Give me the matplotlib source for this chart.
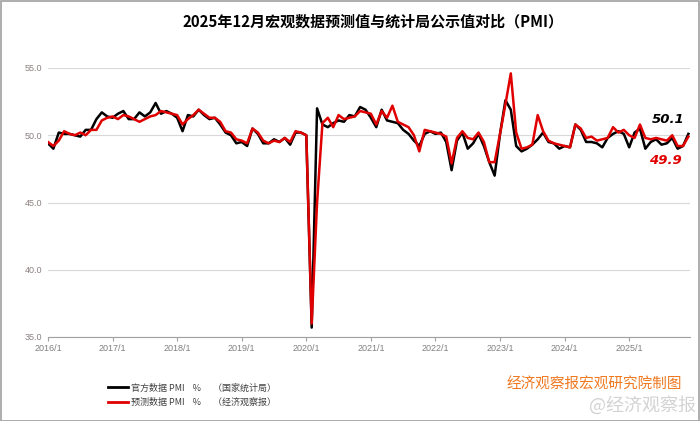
import matplotlib.pyplot as plt
from matplotlib.patches import Rectangle
from matplotlib.lines import Line2D

plt.rcParams['font.family'] = ['Noto Sans CJK SC', 'DejaVu Sans']

# 2016/1 ~ 2025/12 月度数据
tick_labels = ['2016/1', '2017/1', '2018/1', '2019/1', '2020/1',
               '2021/1', '2022/1', '2023/1', '2024/1', '2025/1']

# 官方数据 PMI（国家统计局）
official = [
    49.4, 49.0, 50.2, 50.1, 50.1, 50.0, 49.9, 50.4, 50.4, 51.2, 51.7, 51.4,
    51.3, 51.6, 51.8, 51.2, 51.2, 51.7, 51.4, 51.7, 52.4, 51.6, 51.8, 51.6,
    51.3, 50.3, 51.5, 51.4, 51.9, 51.5, 51.2, 51.3, 50.8, 50.2, 50.0, 49.4,
    49.5, 49.2, 50.5, 50.1, 49.4, 49.4, 49.7, 49.5, 49.8, 49.3, 50.2, 50.2,
    50.0, 35.7, 52.0, 50.8, 50.6, 50.9, 51.1, 51.0, 51.5, 51.4, 52.1, 51.9,
    51.3, 50.6, 51.9, 51.1, 51.0, 50.9, 50.4, 50.1, 49.6, 49.2, 50.1, 50.3,
    50.1, 50.2, 49.5, 47.4, 49.6, 50.2, 49.0, 49.4, 50.1, 49.2, 48.0, 47.0,
    50.1, 52.6, 51.9, 49.2, 48.8, 49.0, 49.3, 49.7, 50.2, 49.5, 49.4, 49.0,
    49.2, 49.1, 50.8, 50.4, 49.5, 49.5, 49.4, 49.1, 49.8, 50.1, 50.3, 50.1,
    49.1, 50.2, 50.5, 49.0, 49.5, 49.7, 49.3, 49.4, 49.8, 49.0, 49.2, 50.1,
]

# 预测数据 PMI（经济观察报）
forecast = [
    49.5, 49.2, 49.6, 50.3, 50.1, 50.0, 50.2, 50.0, 50.4, 50.4, 51.1, 51.3,
    51.4, 51.2, 51.5, 51.4, 51.2, 51.0, 51.2, 51.4, 51.5, 51.8, 51.7, 51.6,
    51.5, 50.8, 51.2, 51.5, 51.9, 51.6, 51.3, 51.3, 51.0, 50.3, 50.2, 49.7,
    49.6, 49.4, 50.5, 50.2, 49.6, 49.4, 49.6, 49.5, 49.8, 49.5, 50.3, 50.2,
    50.0, 36.0, 45.0, 50.9, 51.3, 50.6, 51.5, 51.2, 51.3, 51.4, 51.8, 51.7,
    51.6, 50.8, 51.8, 51.3, 52.2, 51.0, 50.8, 50.6, 50.0, 48.8, 50.4, 50.3,
    50.2, 50.1, 49.9, 47.9, 49.8, 50.3, 49.8, 49.7, 50.2, 49.5, 48.0, 48.0,
    50.1, 52.3, 54.6, 50.2, 49.0, 49.1, 49.3, 51.5, 50.3, 49.6, 49.4, 49.3,
    49.2, 49.1, 50.8, 50.5, 49.8, 49.9, 49.6, 49.7, 49.8, 50.6, 50.2, 50.4,
    50.0, 49.8, 50.8, 49.8, 49.7, 49.8, 49.7, 49.6, 50.0, 49.2, 49.2, 49.9,
]

months = list(range(len(official)))

fig = plt.figure(figsize=(7, 4.21), dpi=100)
ax = fig.add_axes([48 / 700, 1 - 337 / 421, 642 / 700, 269 / 421])

# 折线
ax.plot(months, official, color='black', lw=1.8, zorder=3)
ax.plot(months, forecast, color='#e00000', lw=1.8, zorder=4)

ax.set_xlim(0, 119.3)
ax.set_ylim(35, 55)
ax.set_yticks([35, 40, 45, 50, 55])
ax.set_yticklabels(['35.0', '40.0', '45.0', '50.0', '55.0'],
                   family='Liberation Sans', fontsize=6.5, color='#8c8080')
ax.set_xticks(range(0, 120, 12))
ax.set_xticklabels(tick_labels, family='Liberation Sans', fontsize=6.5, color='#808080')
ax.tick_params(axis='y', length=0, pad=4)
ax.tick_params(axis='x', length=3, color='#a0a0a0', pad=2)
ax.grid(axis='y', color='#d9d9d9', lw=0.8)
ax.set_axisbelow(True)
for side in ['top', 'right', 'left']:
    ax.spines[side].set_visible(False)
ax.spines['bottom'].set_color('#a0a0a0')

# 末值标注
ax.text(115.2, 51.2, f'{official[-1]:.1f}', color='black',
        fontsize=9.5, fontweight='bold', fontstyle='italic',
        family='DejaVu Sans', ha='center', va='center')
ax.text(114.8, 48.1, f'{forecast[-1]:.1f}', color='#e00000',
        fontsize=9.5, fontweight='bold', fontstyle='italic',
        family='DejaVu Sans', ha='center', va='center')

# 标题
fig.text(373 / 700, 1 - 21 / 421, '2025年12月宏观数据预测值与统计局公示值对比（PMI）',
         ha='center', va='center', fontsize=10.8, fontweight='bold')

# 图例
handles = [Line2D([0], [0], color='black', lw=2),
           Line2D([0], [0], color='#e00000', lw=2)]
labels = ['官方数据 PMI    %      （国家统计局）',
          '预测数据 PMI    %      （经济观察报）']
fig.legend(handles, labels, loc='center left',
           bbox_to_anchor=(100 / 700, 1 - 395 / 421), frameon=False,
           fontsize=6.5, handlelength=2.2, handletextpad=0.3,
           labelspacing=0.55, labelcolor='#404040')

# 制图说明与水印
fig.text(594 / 700, 1 - 385 / 421, '经济观察报宏观研究院制图', color='#f07820',
         fontsize=10.5, ha='center', va='center')
fig.text(642 / 700, 1 - 405 / 421, '@经济观察报', color='#c8c8c8',
         fontsize=13, ha='center', va='center', alpha=0.8)

# 外框
fig.patches.append(Rectangle((0.001, 0.001), 0.998, 0.997, transform=fig.transFigure,
                             fill=False, edgecolor='#a0a0a0', lw=1.2))

fig.savefig('out.png', dpi=100)
